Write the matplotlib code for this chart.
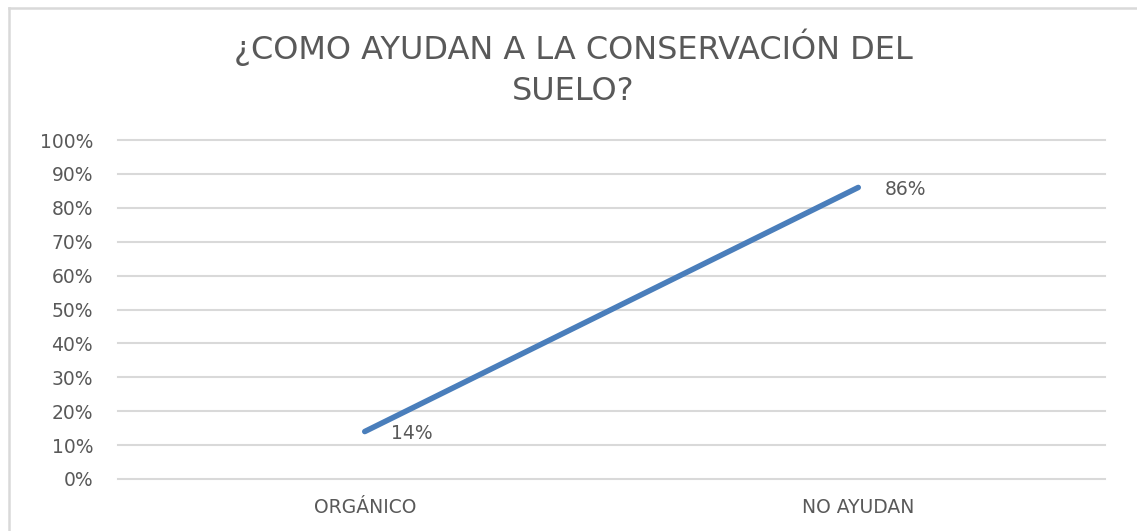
import matplotlib.pyplot as plt
from matplotlib.lines import Line2D
from matplotlib.ticker import PercentFormatter

categories = ["ORGÁNICO", "NO AYUDAN"]
values = [14, 86]
yticks = [0, 10, 20, 30, 40, 50, 60, 70, 80, 90, 100]
title = "¿COMO AYUDAN A LA CONSERVACIÓN DEL\nSUELO?"

plt.rcParams['font.family'] = ['DejaVu Sans']
grey = '#595959'

fig = plt.figure(figsize=(11.37, 5.31), dpi=100)
fig.patch.set_facecolor('white')
# chart frame (left and top edges visible)
fx, fy = 8.5 / 1137, 1 - 7.5 / 531
fig.add_artist(Line2D([fx, fx], [0, fy], transform=fig.transFigure, color='#d9d9d9', lw=1.8))
fig.add_artist(Line2D([fx, 1], [fy, fy], transform=fig.transFigure, color='#d9d9d9', lw=1.8))

ax = fig.add_axes([118 / 1137, 1 - 479 / 531, 987 / 1137, 339 / 531])
x = list(range(len(categories)))
ax.plot(x, values, color='#4a7ebb', linewidth=4, solid_capstyle='round')
for xi, v in zip(x, values):
    ax.annotate(f"{v}%", (xi, v), xytext=(19, -1.5), textcoords='offset points',
                fontsize=13.5, color=grey, va='center', ha='left')

ax.set_xlim(-0.5, len(categories) - 0.5)
ax.set_ylim(0, 100)
ax.set_yticks(yticks)
ax.yaxis.set_major_formatter(PercentFormatter(decimals=0))
ax.set_xticks(x)
ax.set_xticklabels(categories)
ax.tick_params(length=0, labelsize=13.5, labelcolor=grey)
ax.tick_params(axis='y', pad=18)
ax.tick_params(axis='x', pad=14)
ax.grid(axis='y', color='#d9d9d9', linewidth=1.5)
for gl in ax.get_ygridlines():
    gl.set_clip_on(False)
ax.set_axisbelow(True)
for s in ax.spines.values():
    s.set_visible(False)

fig.text(0.504, 1 - 68 / 531, title, ha='center', va='center', fontsize=23,
         color=grey, linespacing=1.42)

fig.savefig('out.png', dpi=100)
